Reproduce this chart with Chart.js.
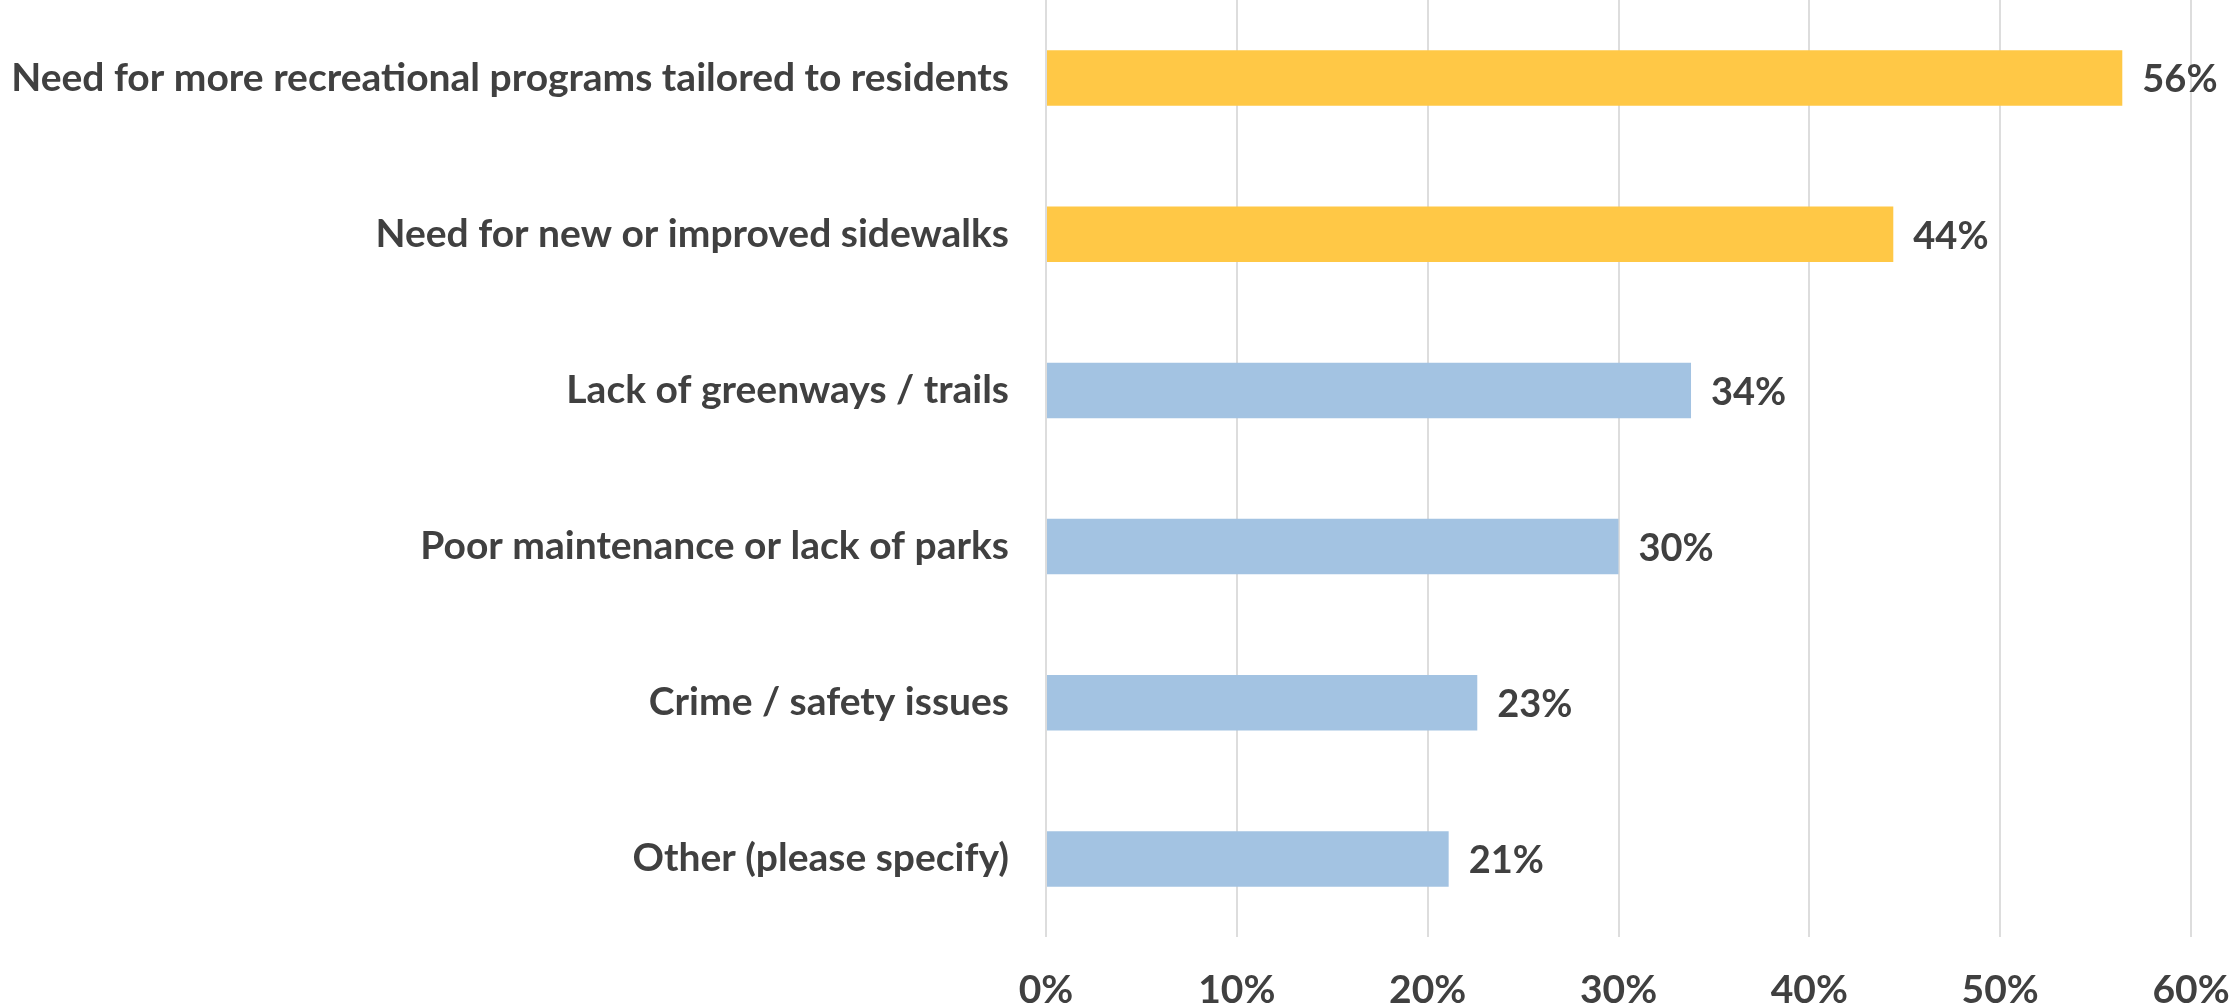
<!DOCTYPE html>
<html>
<head>
<meta charset="utf-8">
<script src="https://cdn.jsdelivr.net/npm/chart.js@4/dist/chart.umd.min.js"></script>
<style>
  html, body { margin: 0; padding: 0; background: #ffffff; }
  #wrap { width: 2231px; height: 1004px; position: relative; }
</style>
</head>
<body>
<div id="wrap"><canvas id="c" width="2231" height="1004"></canvas></div>
<script>
const categories = [
  "Need for more recreational programs tailored to residents",
  "Need for new or improved sidewalks",
  "Lack of greenways / trails",
  "Poor maintenance or lack of parks",
  "Crime / safety issues",
  "Other (please specify)"
];
const values = [56.4, 44.4, 33.8, 30.0, 22.6, 21.1];
const valueLabels = ["56%", "44%", "34%", "30%", "23%", "21%"];
const highlighted = [true, true, false, false, false, false];
const tickValues = [0, 10, 20, 30, 40, 50, 60];

const YELLOW = "#FFC846";
const BLUE = "#A3C3E2";
const TEXT = "#404040";
const FONT = "Lato";

const barLabelPlugin = {
  id: "barLabels",
  afterDatasetsDraw(chart) {
    const ctx = chart.ctx;
    const meta = chart.getDatasetMeta(0);
    ctx.save();
    ctx.fillStyle = TEXT;
    ctx.font = "bold 38px " + FONT;
    ctx.textAlign = "left";
    ctx.textBaseline = "middle";
    meta.data.forEach((bar, i) => {
      ctx.fillText(valueLabels[i], bar.x + 20, bar.y + 2);
    });
    ctx.restore();
  }
};

new Chart(document.getElementById("c"), {
  type: "bar",
  data: {
    labels: categories,
    datasets: [{
      data: values,
      backgroundColor: highlighted.map(h => h ? YELLOW : BLUE),
      borderWidth: 0,
      categoryPercentage: 0.355,
      barPercentage: 1.0
    }]
  },
  options: {
    indexAxis: "y",
    responsive: false,
    animation: false,
    layout: { padding: { left: 0, right: 40, top: 0, bottom: 0 } },
    plugins: { legend: { display: false }, tooltip: { enabled: false } },
    scales: {
      x: {
        min: 0, max: 60,
        afterBuildTicks(scale) { scale.ticks = tickValues.map(v => ({ value: v })); },
        afterFit(scale) {
          scale.height = 67;
          scale.paddingLeft = 0; scale.paddingRight = 0;
        },
        grid: { color: "#DDDDDD", lineWidth: 2, drawTicks: false },
        border: { display: false },
        ticks: {
          padding: 30,
          color: TEXT,
          font: { family: FONT, size: 39, weight: "bold" },
          callback: v => v + "%"
        }
      },
      y: {
        afterFit(scale) {
          scale.width = 1046;
          scale.paddingTop = 0; scale.paddingBottom = 0;
        },
        grid: { display: false, drawTicks: false },
        border: { display: false },
        ticks: {
          padding: 37,
          color: TEXT,
          font: { family: FONT, size: 39, weight: "bold" }
        }
      }
    }
  },
  plugins: [barLabelPlugin]
});
</script>
</body>
</html>
